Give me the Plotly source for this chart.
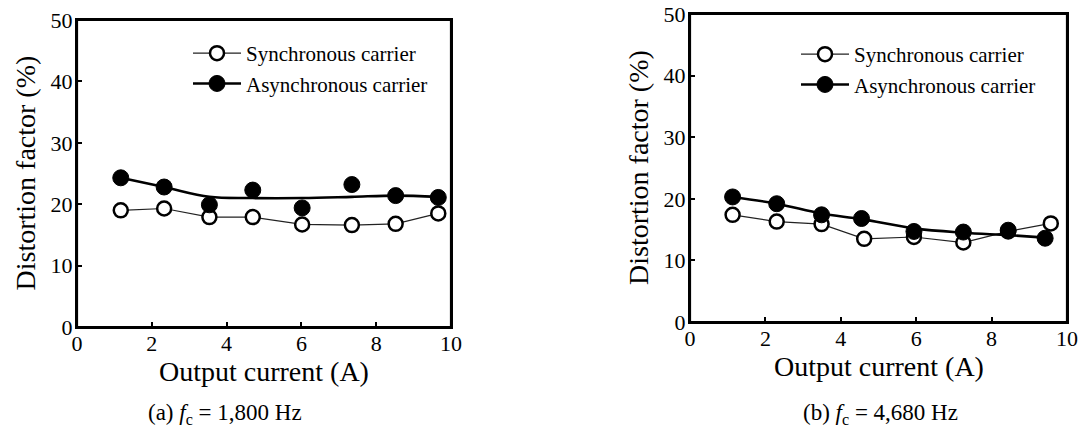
import plotly.graph_objects as go

# ---------------- data ----------------
# (a) fc = 1,800 Hz
a_current = [1.17, 2.33, 3.54, 4.70, 6.02, 7.35, 8.52, 9.66]
a_sync = [19.0, 19.3, 17.9, 17.9, 16.7, 16.6, 16.8, 18.5]
a_async = [24.3, 22.8, 19.9, 22.3, 19.4, 23.2, 21.4, 21.1]
a_async_fit = [24.3, 22.8, 21.2, 21.0, 21.0, 21.2, 21.4, 21.2]

# (b) fc = 4,680 Hz
b_current_sync = [1.13, 2.30, 3.49, 4.62, 5.94, 7.25, 8.44, 9.57]
b_sync = [17.4, 16.3, 15.9, 13.5, 13.8, 12.9, 14.7, 16.0]
b_current_async = [1.13, 2.30, 3.49, 4.55, 5.94, 7.25, 8.44, 9.42]
b_async = [20.3, 19.2, 17.4, 16.8, 14.7, 14.6, 14.9, 13.6]
b_async_fit = [20.3, 19.2, 17.6, 16.7, 15.2, 14.5, 14.1, 13.7]

x_ticks = [0, 2, 4, 6, 8, 10]
y_ticks = [0, 10, 20, 30, 40, 50]
series_names = ["Synchronous carrier", "Asynchronous carrier"]
captions = ["(a) <i>f</i><sub>c</sub> = 1,800 Hz", "(b) <i>f</i><sub>c</sub> = 4,680 Hz"]
x_title = "Output current (A)"
y_title = "Distortion factor (%)"

# ---------------- figure ----------------
W, H = 1086, 434
FONT = "Liberation Serif"
fig = go.Figure()

open_marker = dict(symbol="circle", size=14, color="white", line=dict(color="black", width=2.5))
filled_marker = dict(symbol="circle", size=16, color="black", line=dict(color="black", width=1))

panels = [
    dict(xa="x", ya="y", leg="legend", xs=a_current, sy=a_sync, xa_=a_current, ay=a_async, fit=a_async_fit),
    dict(xa="x2", ya="y2", leg="legend2", xs=b_current_sync, sy=b_sync, xa_=b_current_async, ay=b_async, fit=b_async_fit),
]

for p in panels:
    fig.add_trace(go.Scatter(
        x=p["xs"], y=p["sy"], mode="lines+markers", name=series_names[0],
        line=dict(color="#222222", width=1.2), marker=open_marker,
        xaxis=p["xa"], yaxis=p["ya"], legend=p["leg"], legendgroup="s" + p["leg"],
    ))
    fig.add_trace(go.Scatter(
        x=p["xa_"], y=p["fit"], mode="lines", line=dict(color="black", width=2.6, shape="spline", smoothing=1.0),
        xaxis=p["xa"], yaxis=p["ya"], showlegend=False, hoverinfo="skip",
    ))
    fig.add_trace(go.Scatter(
        x=p["xa_"], y=p["ay"], mode="markers", marker=filled_marker,
        xaxis=p["xa"], yaxis=p["ya"], showlegend=False,
    ))
    fig.add_trace(go.Scatter(
        x=[None], y=[None], mode="lines+markers", name=series_names[1],
        line=dict(color="black", width=2.6), marker=filled_marker,
        xaxis=p["xa"], yaxis=p["ya"], legend=p["leg"], legendgroup="a" + p["leg"],
    ))

def px_x(v):
    return v / W

def px_y(v):
    return (H - v) / H

axis_common = dict(
    showline=True, mirror=True, linecolor="black", linewidth=2.2,
    ticks="inside", ticklen=5, tickwidth=2, tickcolor="black",
    showgrid=False, zeroline=False, automargin=False, ticklabeloverflow="allow",
    tickfont=dict(family=FONT, size=22, color="black"),
)
x_axis_common = dict(axis_common, ticklabelstandoff=-5)
y_axis_common = dict(axis_common, ticklabelstandoff=-2)

box_a = (77, 451, 20, 327)
box_b = (690, 1067, 14, 322)

fig.update_layout(
    template="none",
    width=W, height=H,
    margin=dict(l=0, r=0, t=0, b=0, autoexpand=False),
    paper_bgcolor="white", plot_bgcolor="white",
    font=dict(family=FONT, color="black"),
    xaxis=dict(domain=[px_x(box_a[0]), px_x(box_a[1])], range=[0, 10], tickvals=x_ticks, anchor="y", **x_axis_common),
    yaxis=dict(domain=[px_y(box_a[3]), px_y(box_a[2])], range=[0, 50], tickvals=y_ticks, anchor="x", **y_axis_common),
    xaxis2=dict(domain=[px_x(box_b[0]), px_x(box_b[1])], range=[0, 10], tickvals=x_ticks, anchor="y2", **x_axis_common),
    yaxis2=dict(domain=[px_y(box_b[3]), px_y(box_b[2])], range=[0, 50], tickvals=y_ticks, anchor="x2", **y_axis_common),
    legend=dict(x=px_x(188), y=px_y(33), xanchor="left", yanchor="top", bgcolor="rgba(0,0,0,0)",
                font=dict(family=FONT, size=21, color="black"), itemwidth=48, tracegroupgap=8,
                traceorder="normal", borderwidth=0),
    legend2=dict(x=px_x(796), y=px_y(34), xanchor="left", yanchor="top", bgcolor="rgba(0,0,0,0)",
                 font=dict(family=FONT, size=21, color="black"), itemwidth=48, tracegroupgap=6,
                 traceorder="normal", borderwidth=0),
    showlegend=True,
)

# explicit frame around each panel
for xr, yr in [("x domain", "y domain"), ("x2 domain", "y2 domain")]:
    fig.add_shape(type="rect", xref=xr, yref=yr, x0=0, x1=1, y0=0, y1=1,
                  line=dict(color="black", width=2.2), fillcolor="rgba(0,0,0,0)", layer="above")

ann = []
for box, cap_x, cap in [(box_a, 225, captions[0]), (box_b, 880, captions[1])]:
    cx = (box[0] + box[1]) / 2
    cy = (box[2] + box[3]) / 2
    ann.append(dict(text=x_title, x=px_x(cx), y=px_y(box[3] + 44), xref="paper", yref="paper",
                    showarrow=False, xanchor="center", yanchor="middle",
                    font=dict(family=FONT, size=28, color="black")))
    ann.append(dict(text=y_title, x=px_x(box[0] - 52), y=px_y(cy), xref="paper", yref="paper",
                    showarrow=False, textangle=-90, xanchor="center", yanchor="middle",
                    font=dict(family=FONT, size=28, color="black")))
    ann.append(dict(text=cap, x=px_x(cap_x), y=px_y(414), xref="paper", yref="paper",
                    showarrow=False, xanchor="center", yanchor="middle",
                    font=dict(family=FONT, size=23, color="black")))
fig.update_layout(annotations=ann)

fig.write_html("out.html", config={"displayModeBar": False},
               post_script="document.body.style.margin='0px';")
